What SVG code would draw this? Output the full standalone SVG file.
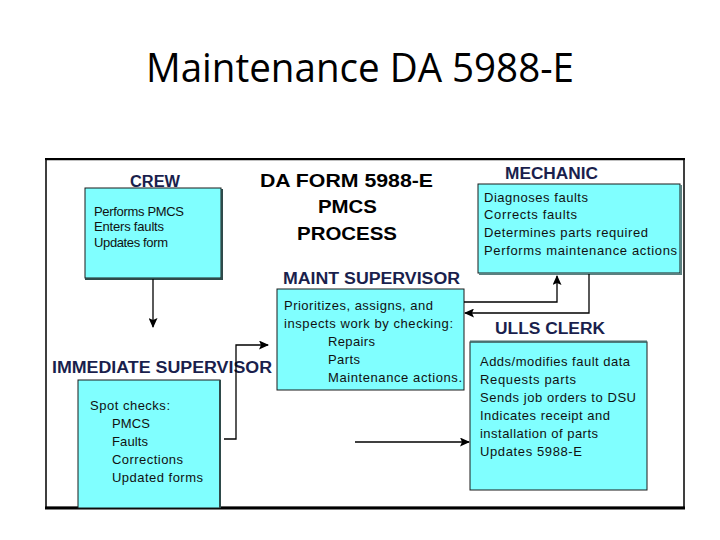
<svg xmlns="http://www.w3.org/2000/svg" width="720" height="540" viewBox="0 0 720 540">
<defs>
<marker id="ah" markerUnits="userSpaceOnUse" markerWidth="10" markerHeight="9" refX="9" refY="4.5" orient="auto">
<path d="M0,0 L10,4.5 L0,9 L2,4.5 Z" fill="#000"/>
</marker>
<style>
.box{fill:#80ffff;stroke:#1a1a1a;stroke-width:1}
.sh{fill:none;stroke:#2e4a4a;stroke-width:2}
.lbl{font-family:"Liberation Sans",Arial,sans-serif;font-weight:bold;fill:#1a1f4d;font-size:16px}
.ttl{font-family:"Liberation Sans",Arial,sans-serif;font-weight:bold;fill:#000;font-size:19px}
.t{font-family:"Liberation Sans",Arial,sans-serif;fill:#111;font-size:13px}
.conn{fill:none;stroke:#000;stroke-width:1.3}
</style>
</defs>
<rect width="720" height="540" fill="#fff"/>
<text x="360" y="82" text-anchor="middle" font-family="'Open Sans','Liberation Sans',sans-serif" font-size="40" fill="#000" textLength="428" lengthAdjust="spacingAndGlyphs">Maintenance DA 5988-E</text>

<g id="frame">
<rect x="46" y="159.5" width="638" height="348" fill="none" stroke="#000" stroke-width="1.5"/>
<line x1="45" y1="159" x2="685" y2="159" stroke="#000" stroke-width="2"/>
<line x1="45" y1="508" x2="685" y2="508" stroke="#000" stroke-width="3"/>
</g>

<g id="title-block">
<text class="ttl" x="260" y="187" textLength="173" lengthAdjust="spacingAndGlyphs">DA FORM 5988-E</text>
<text class="ttl" x="318" y="213" textLength="59" lengthAdjust="spacingAndGlyphs">PMCS</text>
<text class="ttl" x="297" y="240" textLength="100" lengthAdjust="spacingAndGlyphs">PROCESS</text>
</g>

<g id="crew">
<text class="lbl" x="130" y="187" textLength="50" lengthAdjust="spacingAndGlyphs">CREW</text>
<rect class="box" x="85" y="188" width="136" height="90"/>
<polyline class="sh" points="222,189 222,279 85,279"/>
<text class="t" x="94" y="216" font-size="11" textLength="90" lengthAdjust="spacing">Performs PMCS</text>
<text class="t" x="94" y="231" font-size="11" textLength="70" lengthAdjust="spacing">Enters faults</text>
<text class="t" x="94" y="247" font-size="11" textLength="74" lengthAdjust="spacing">Updates form</text>
</g>

<g id="immediate-supervisor">
<text class="lbl" x="52" y="373" font-size="17" textLength="220" lengthAdjust="spacingAndGlyphs">IMMEDIATE SUPERVISOR</text>
<rect class="box" x="78" y="380" width="142" height="128"/>
<line x1="220" y1="380" x2="220" y2="508" stroke="#2e4a4a" stroke-width="2"/>
<text class="t" x="90" y="410" textLength="80" lengthAdjust="spacing">Spot checks:</text>
<text class="t" x="112" y="428" textLength="38" lengthAdjust="spacing">PMCS</text>
<text class="t" x="112" y="446" textLength="36" lengthAdjust="spacing">Faults</text>
<text class="t" x="112" y="464" textLength="71" lengthAdjust="spacing">Corrections</text>
<text class="t" x="112" y="482" textLength="91" lengthAdjust="spacing">Updated forms</text>
</g>

<g id="maint-supervisor">
<text class="lbl" x="283" y="284" textLength="177" lengthAdjust="spacingAndGlyphs">MAINT SUPERVISOR</text>
<rect class="box" x="277" y="289" width="187" height="101"/>
<text class="t" x="284" y="310" textLength="149" lengthAdjust="spacing">Prioritizes, assigns, and</text>
<text class="t" x="284" y="328" textLength="169" lengthAdjust="spacing">inspects work by checking:</text>
<text class="t" x="328" y="346" textLength="47" lengthAdjust="spacing">Repairs</text>
<text class="t" x="328" y="364" textLength="32" lengthAdjust="spacing">Parts</text>
<text class="t" x="328" y="382" textLength="134" lengthAdjust="spacing">Maintenance actions.</text>
</g>

<g id="mechanic">
<text class="lbl" x="505" y="179" textLength="93" lengthAdjust="spacingAndGlyphs">MECHANIC</text>
<rect class="box" x="478" y="184" width="202" height="89"/>
<polyline points="479,274 681,274 681,185" fill="none" stroke="#5a8080" stroke-width="2"/>
<text class="t" x="484" y="202" textLength="104" lengthAdjust="spacing">Diagnoses faults</text>
<text class="t" x="484" y="219" textLength="93" lengthAdjust="spacing">Corrects faults</text>
<text class="t" x="484" y="237" textLength="164" lengthAdjust="spacing">Determines parts required</text>
<text class="t" x="484" y="255" textLength="193" lengthAdjust="spacing">Performs maintenance actions</text>
</g>

<g id="ulls-clerk">
<text class="lbl" x="495" y="334" textLength="110" lengthAdjust="spacingAndGlyphs">ULLS CLERK</text>
<rect class="box" x="470" y="342" width="177" height="148"/>
<line x1="470" y1="341.5" x2="647" y2="341.5" stroke="#4a7070" stroke-width="2"/>
<text class="t" x="480" y="366" textLength="150" lengthAdjust="spacing">Adds/modifies fault data</text>
<text class="t" x="480" y="384" textLength="96" lengthAdjust="spacing">Requests parts</text>
<text class="t" x="480" y="402" textLength="156" lengthAdjust="spacing">Sends job orders to DSU</text>
<text class="t" x="480" y="420" textLength="130" lengthAdjust="spacing">Indicates receipt and</text>
<text class="t" x="480" y="438" textLength="118" lengthAdjust="spacing">installation of parts</text>
<text class="t" x="480" y="456" textLength="102" lengthAdjust="spacing">Updates 5988-E</text>
</g>

<g id="connectors">
<polyline class="conn" points="153,279 153,327" marker-end="url(#ah)"/>
<polyline class="conn" points="224,439 236,439 236,345 268,345" marker-end="url(#ah)"/>
<polyline class="conn" points="355,442 469,442" marker-end="url(#ah)"/>
<polyline class="conn" points="464,302 557,302 557,276" marker-end="url(#ah)"/>
<polyline class="conn" points="589,274 589,313 465,313" marker-end="url(#ah)"/>
</g>
</svg>
